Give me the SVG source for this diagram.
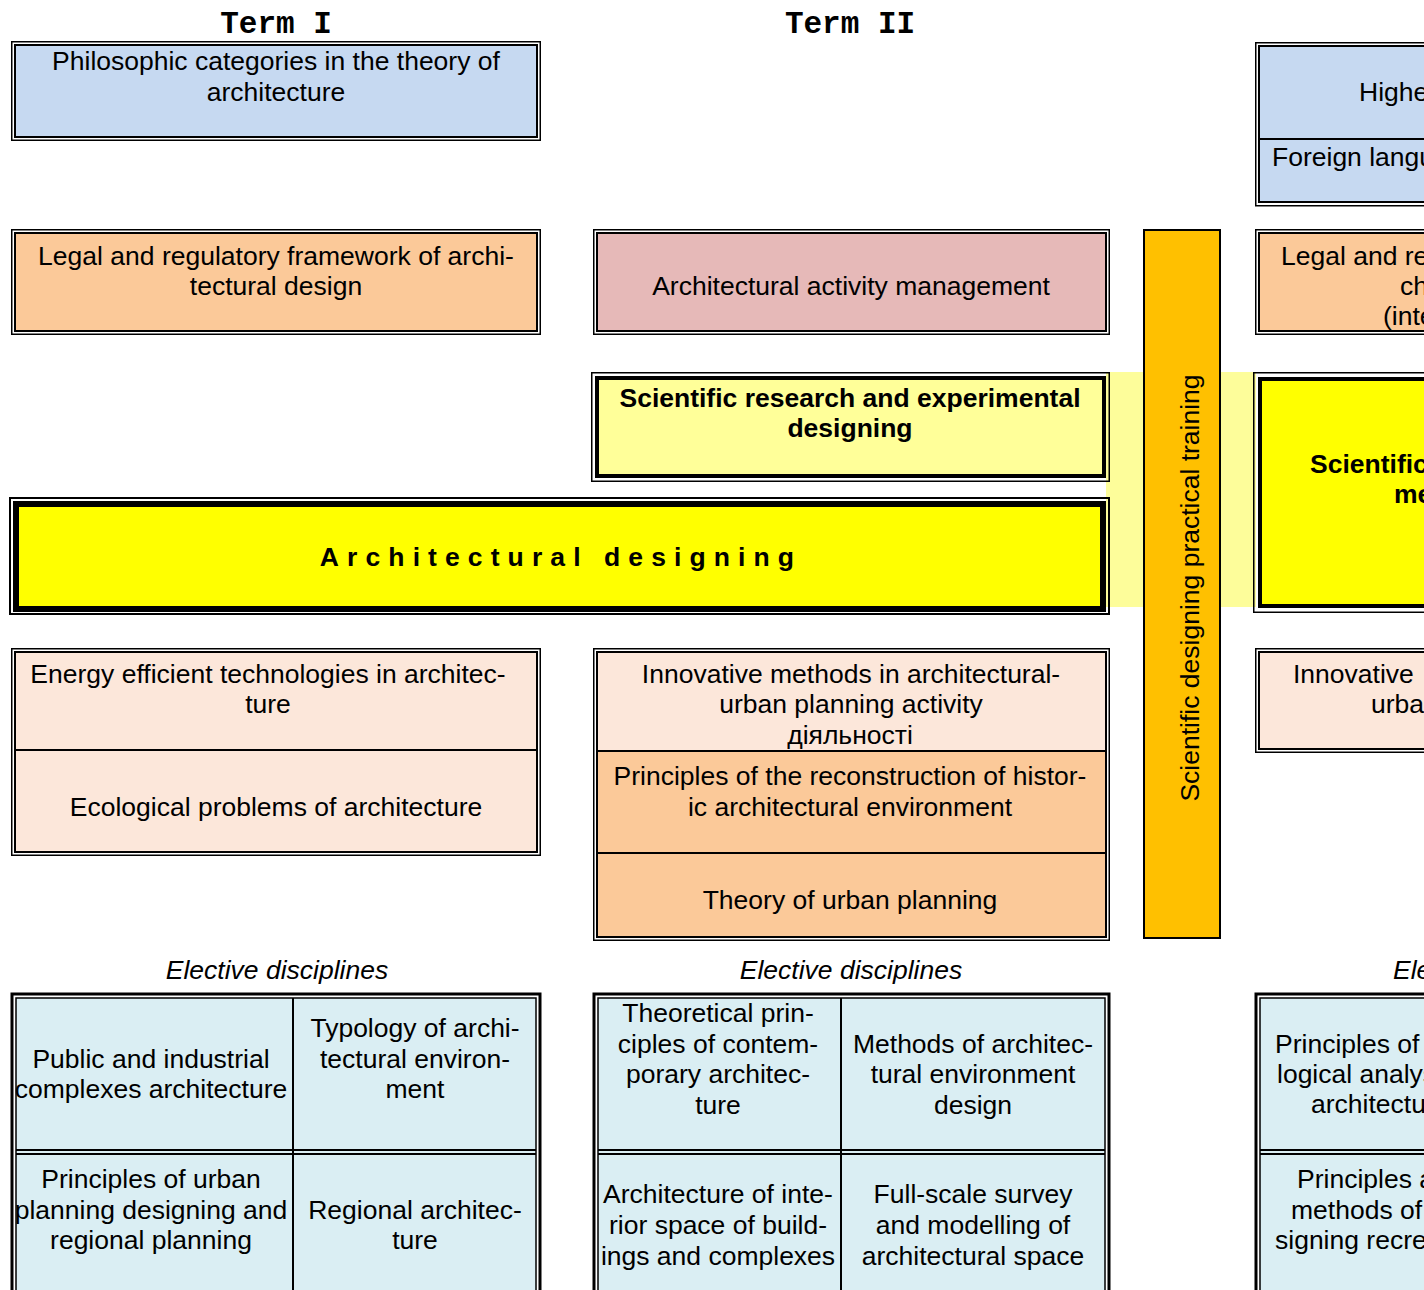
<svg xmlns="http://www.w3.org/2000/svg" width="1424" height="1290" viewBox="0 0 1424 1290">
<style>
text{font-family:"Liberation Sans",Arial,sans-serif;font-size:26.5px;fill:#000}
.c{text-anchor:middle}
.b{font-weight:bold}
.it{font-style:italic}
.term{font-family:"Liberation Mono","Courier New",monospace;font-weight:bold;font-size:31px;text-anchor:middle}
.ob{fill:none;stroke:#000;stroke-width:1.5}
.ib{stroke:#000;stroke-width:2}
.tk{fill:none;stroke:#000;stroke-width:4}
.ln{stroke:#000;stroke-width:2;fill:none}
.blue{fill:#C6D9F1}
.peach{fill:#FBC999}
.lpeach{fill:#FCE7DA}
.pink{fill:#E6B9B8}
.lyel{fill:#FFFF99}
.yel{fill:#FFFF00}
.aqua{fill:#DAEEF3}
</style>
<rect width="1424" height="1290" fill="#fff"/>

<g id="headers">
<text class="term" x="276" y="33">Term I</text>
<text class="term" x="850" y="33">Term II</text>
</g>

<rect id="band" x="1106" y="372" width="150" height="235" fill="#FDFD9A"/>

<g id="philosophic">
<rect class="ob" x="11.75" y="41.75" width="528.5" height="98.5"/>
<rect class="ib blue" x="15" y="45" width="522" height="92"/>
<text class="c" x="276" y="70">Philosophic categories in the theory of</text>
<text class="c" x="276" y="101">architecture</text>
</g>

<g id="legal1">
<rect class="ob" x="11.75" y="229.75" width="528.5" height="104.5"/>
<rect class="ib peach" x="15" y="233" width="522" height="98"/>
<text class="c" x="276" y="265">Legal and regulatory framework of archi-</text>
<text class="c" x="276" y="295">tectural design</text>
</g>

<g id="management">
<rect class="ob" x="593.75" y="229.75" width="515.5" height="104.5"/>
<rect class="ib pink" x="597" y="233" width="509" height="98"/>
<text class="c" x="851" y="295">Architectural activity management</text>
</g>

<g id="research">
<rect class="ob" x="591.75" y="372.75" width="517.5" height="108.5"/>
<rect class="tk" x="597" y="378" width="507" height="98" style="fill:#FFFF99"/>
<text class="c b" x="850" y="407">Scientific research and experimental</text>
<text class="c b" x="850" y="437">designing</text>
</g>

<g id="arch-designing">
<rect x="10" y="498" width="1099" height="116" fill="none" stroke="#000" stroke-width="2"/>
<rect x="16" y="504" width="1087" height="105" fill="#FFFF00" stroke="#000" stroke-width="6"/>
<text class="c b" x="561" y="566" letter-spacing="8.1">Architectural designing</text>
</g>

<g id="practical-training">
<rect x="1144" y="230" width="76" height="708" fill="#FFC000" stroke="#000" stroke-width="2"/>
<text class="c" transform="translate(1199 588) rotate(-90)">Scientific designing practical training</text>
</g>

<g id="energy">
<rect class="ob" x="11.75" y="648.75" width="528.5" height="206.5"/>
<rect class="ib lpeach" x="15" y="652" width="522" height="200"/>
<line class="ln" x1="15" y1="750" x2="537" y2="750" stroke-width="3"/>
<text class="c" x="268" y="683">Energy efficient technologies in architec-</text>
<text class="c" x="268" y="713">ture</text>
<text class="c" x="276" y="816">Ecological problems of architecture</text>
</g>

<g id="innovative-stack">
<rect class="ob" x="593.75" y="648.75" width="515.5" height="291.5"/>
<rect class="ib lpeach" x="597" y="652" width="509" height="99"/>
<rect class="ib peach" x="597" y="751" width="509" height="186"/>
<line class="ln" x1="597" y1="751" x2="1106" y2="751" stroke-width="3"/>
<line class="ln" x1="597" y1="853" x2="1106" y2="853" stroke-width="3"/>
<text class="c" x="851" y="683">Innovative methods in architectural-</text>
<text class="c" x="851" y="713">urban planning activity</text>
<text class="c" x="850" y="744">діяльності</text>
<text class="c" x="850" y="785">Principles of the reconstruction of histor-</text>
<text class="c" x="850" y="816">ic architectural environment</text>
<text class="c" x="850" y="909">Theory of urban planning</text>
</g>

<g id="electives-1">
<text class="c it" x="277" y="979">Elective disciplines</text>
<rect x="12" y="994" width="528" height="310" fill="none" stroke="#000" stroke-width="3"/>
<rect class="aqua" x="16" y="998" width="520" height="300" stroke="#000" stroke-width="1.5"/>
<line class="ln" x1="293" y1="998" x2="293" y2="1290"/>
<line class="ln" x1="16" y1="1150" x2="536" y2="1150" stroke-width="2.5"/>
<line class="ln" x1="16" y1="1154" x2="536" y2="1154" stroke-width="1.5"/>
<text class="c" x="151" y="1068">Public and industrial</text>
<text class="c" x="151" y="1098">complexes architecture</text>
<text class="c" x="415" y="1037">Typology of archi-</text>
<text class="c" x="415" y="1068">tectural environ-</text>
<text class="c" x="415" y="1098">ment</text>
<text class="c" x="151" y="1188">Principles of urban</text>
<text class="c" x="151" y="1219">planning designing and</text>
<text class="c" x="151" y="1249">regional planning</text>
<text class="c" x="415" y="1219">Regional architec-</text>
<text class="c" x="415" y="1249">ture</text>
</g>

<g id="electives-2">
<text class="c it" x="851" y="979">Elective disciplines</text>
<rect x="594" y="994" width="515" height="310" fill="none" stroke="#000" stroke-width="3"/>
<rect class="aqua" x="598" y="998" width="507" height="300" stroke="#000" stroke-width="1.5"/>
<line class="ln" x1="841" y1="998" x2="841" y2="1290"/>
<line class="ln" x1="598" y1="1150" x2="1105" y2="1150" stroke-width="2.5"/>
<line class="ln" x1="598" y1="1154" x2="1105" y2="1154" stroke-width="1.5"/>
<text class="c" x="718" y="1022">Theoretical prin-</text>
<text class="c" x="718" y="1053">ciples of contem-</text>
<text class="c" x="718" y="1083">porary architec-</text>
<text class="c" x="718" y="1114">ture</text>
<text class="c" x="973" y="1053">Methods of architec-</text>
<text class="c" x="973" y="1083">tural environment</text>
<text class="c" x="973" y="1114">design</text>
<text class="c" x="718" y="1203">Architecture of inte-</text>
<text class="c" x="718" y="1234">rior space of build-</text>
<text class="c" x="718" y="1265">ings and complexes</text>
<text class="c" x="973" y="1203">Full-scale survey</text>
<text class="c" x="973" y="1234">and modelling of</text>
<text class="c" x="973" y="1265">architectural space</text>
</g>

<g id="term3-foundation">
<rect class="ob" x="1255.75" y="42.75" width="180" height="163"/>
<rect class="ib blue" x="1259" y="46" width="180" height="156"/>
<line class="ln" x1="1259" y1="139" x2="1424" y2="139"/>
<text x="1359" y="101">Highe</text>
<text x="1272" y="166">Foreign langu</text>
</g>

<g id="term3-legal">
<rect class="ob" x="1255.75" y="229.75" width="180" height="104.5"/>
<rect class="ib peach" x="1259" y="233" width="180" height="98"/>
<text x="1281" y="265">Legal and re</text>
<text x="1400" y="295">ch</text>
<text x="1383" y="325">(inte</text>
</g>

<g id="term3-research">
<rect class="ob" x="1253.75" y="372.75" width="180" height="239.5"/>
<rect class="tk yel" x="1260" y="379" width="180" height="227"/>
<text class="b" x="1310" y="473">Scientific</text>
<text class="b" x="1394" y="503">me</text>
</g>

<g id="term3-innovative">
<rect class="ob" x="1255.75" y="648.75" width="180" height="103.5"/>
<rect class="ib lpeach" x="1259" y="652" width="180" height="97"/>
<text x="1293" y="683">Innovative</text>
<text x="1371" y="713">urba</text>
</g>

<g id="electives-3">
<text class="it" x="1393" y="979">Ele</text>
<rect x="1256" y="994" width="180" height="310" fill="none" stroke="#000" stroke-width="3"/>
<rect class="aqua" x="1260" y="998" width="180" height="300" stroke="#000" stroke-width="1.5"/>
<line class="ln" x1="1260" y1="1150" x2="1424" y2="1150" stroke-width="2.5"/>
<line class="ln" x1="1260" y1="1154" x2="1424" y2="1154" stroke-width="1.5"/>
<text x="1275" y="1053">Principles of</text>
<text x="1277" y="1083">logical analys</text>
<text x="1311" y="1113">architectu</text>
<text x="1297" y="1188">Principles a</text>
<text x="1291" y="1219">methods of</text>
<text x="1275" y="1249">signing recre</text>
</g>

<g id="connectors"/>
</svg>
